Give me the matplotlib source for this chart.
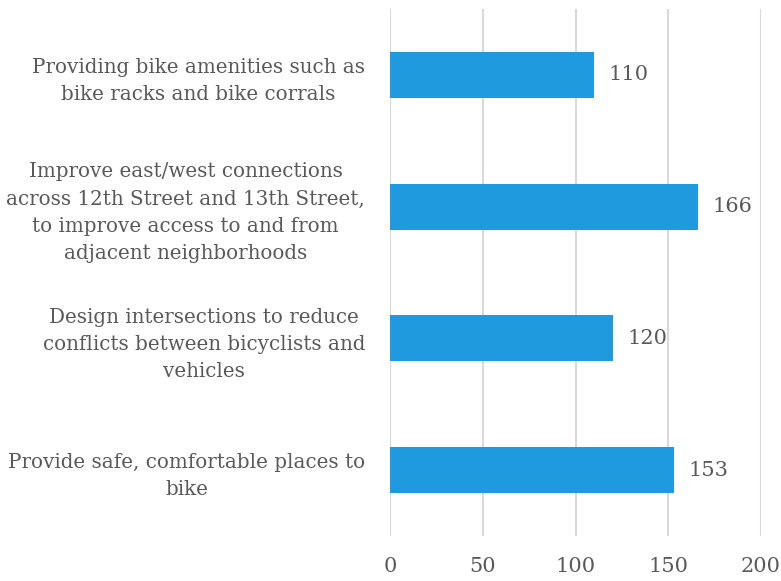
import matplotlib.pyplot as plt
import numpy as np

categories = [
    "Providing bike amenities such as\nbike racks and bike corrals",
    "Improve east/west connections\nacross 12th Street and 13th Street,\nto improve access to and from\nadjacent neighborhoods",
    "Design intersections to reduce\nconflicts between bicyclists and\nvehicles",
    "Provide safe, comfortable places to\nbike",
]
values = [110, 166, 120, 153]
xticks = [0, 50, 100, 150, 200]

plt.rcParams['font.family'] = ['DejaVu Serif']
text_color = '#595959'

fig = plt.figure(figsize=(7.81, 5.81), dpi=100)
ax = fig.add_axes([390 / 781, 1 - 536 / 581, 371 / 781, 527 / 581])

y = np.arange(len(categories))
ax.barh(y, values, height=0.35, color='#1f9ade', zorder=3)
for yi, v in zip(y, values):
    ax.text(v + 8, yi, str(v), va='center', ha='left', fontsize=15, color=text_color)

ax.set_xlim(0, 200)
ax.set_ylim(len(categories) - 0.5, -0.5)
ax.set_xticks(xticks)
ax.set_xticklabels([str(t) for t in xticks], fontsize=15, color=text_color)
ax.set_yticks(y)
ax.set_yticklabels(categories, fontsize=14.3, color=text_color,
                   multialignment='center', linespacing=1.55)
ax.tick_params(axis='both', length=0)
ax.tick_params(axis='x', pad=15)
ax.tick_params(axis='y', pad=18)
ax.grid(axis='x', color='#d9d9d9', linewidth=1.5, zorder=0)
for s in ax.spines.values():
    s.set_visible(False)

plt.savefig('out.png', dpi=100)
